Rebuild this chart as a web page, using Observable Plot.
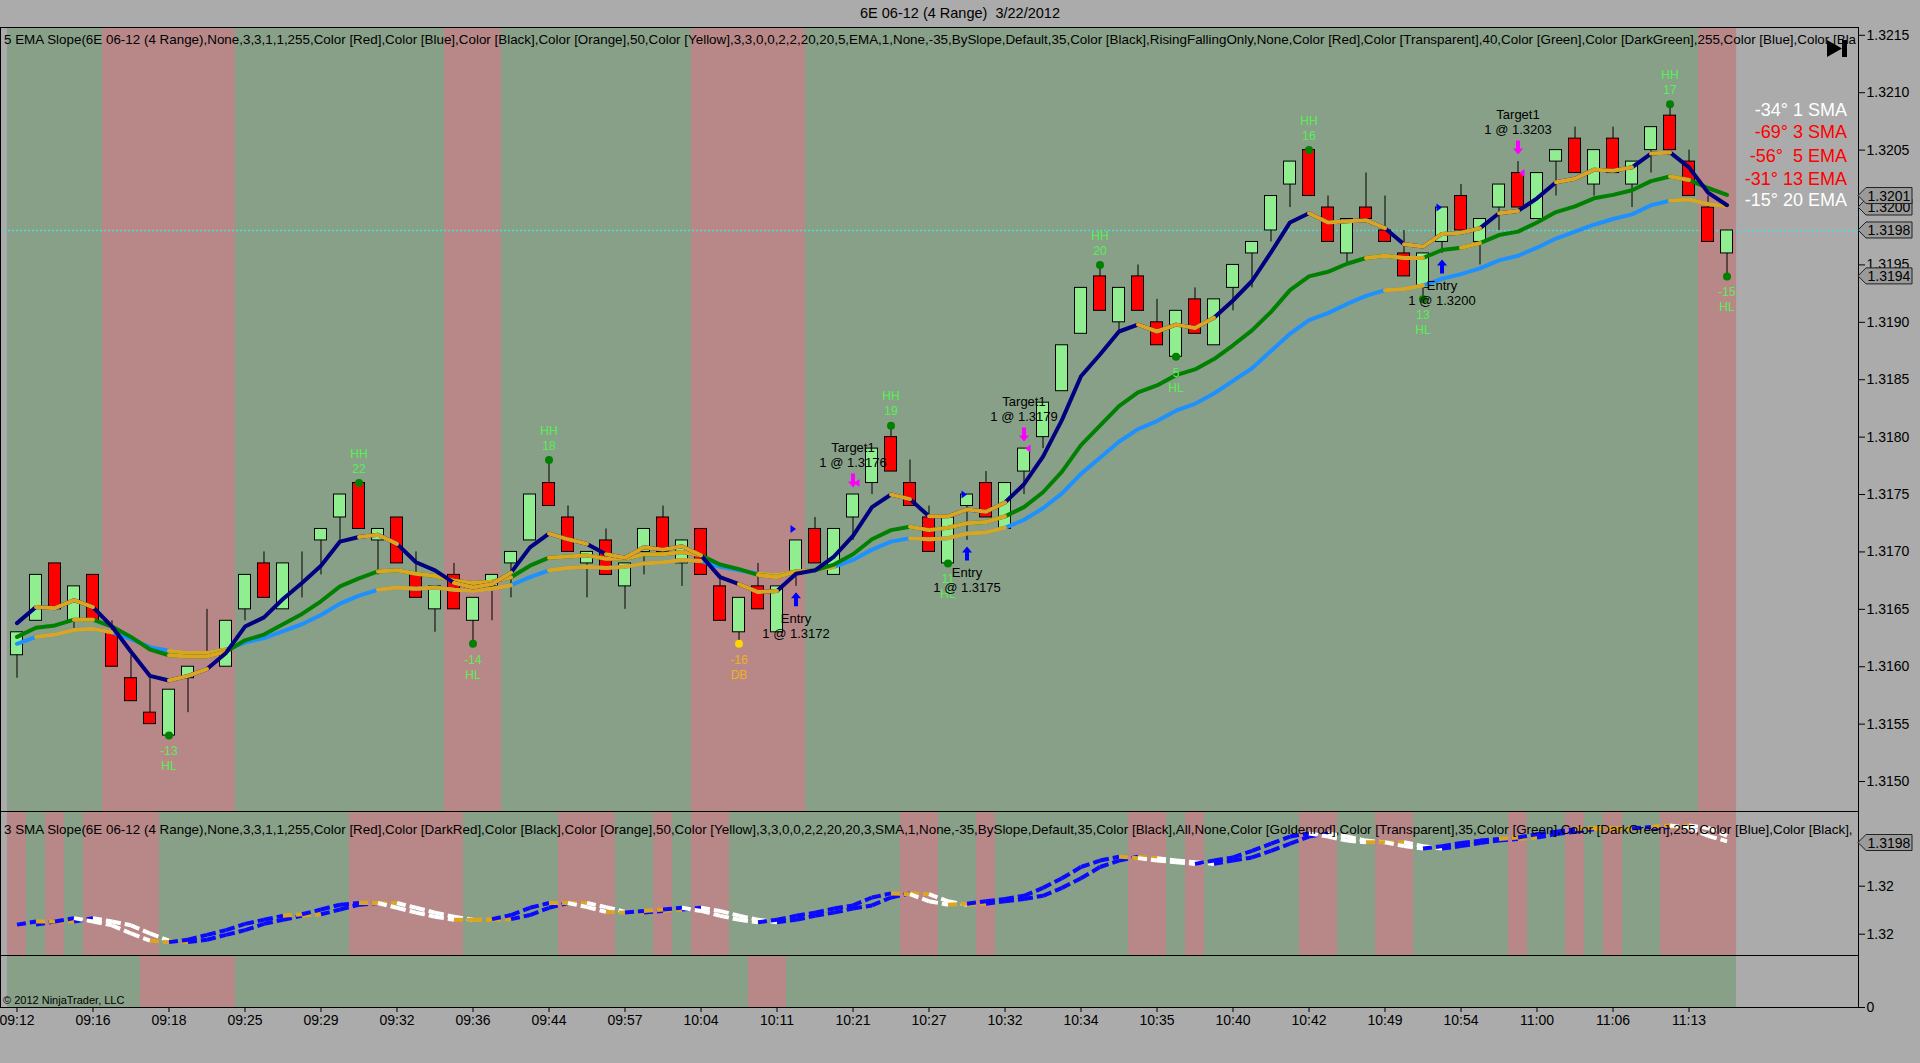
<!DOCTYPE html>
<html><head><meta charset="utf-8">
<script src="https://cdn.jsdelivr.net/npm/d3@7"></script>
<script src="https://cdn.jsdelivr.net/npm/@observablehq/plot@0.6"></script>
<style>
html,body{margin:0;padding:0;}
body{background:#ababab;width:1920px;height:1063px;overflow:hidden;position:relative;font-family:'Liberation Sans',Arial,sans-serif;}
.abs{position:absolute;white-space:pre;}
.panel{position:absolute;left:0;}
.ptitle{position:absolute;left:4px;font-size:13.4px;line-height:15px;color:#000;width:1852px;overflow:hidden;white-space:pre;}
.leg{position:absolute;right:73px;font-size:18px;line-height:20px;white-space:pre;text-align:right;}
</style></head><body>
<div class="abs" style="left:0;top:5px;width:1920px;text-align:center;font-size:14.5px;line-height:16px;color:#000">6E 06-12 (4 Range)  3/22/2012</div>
<div id="p1" class="panel" style="top:27px"></div>
<div id="p2" class="panel" style="top:811px"></div>
<div id="p3" class="panel" style="top:955px"></div>
<div class="ptitle" style="top:32px">5 EMA Slope(6E 06-12 (4 Range),None,3,3,1,1,255,Color [Red],Color [Blue],Color [Black],Color [Orange],50,Color [Yellow],3,3,0,0,2,2,20,20,5,EMA,1,None,-35,BySlope,Default,35,Color [Black],RisingFallingOnly,None,Color [Red],Color [Transparent],40,Color [Green],Color [DarkGreen],255,Color [Blue],Color [Black],</div>
<div class="ptitle" style="top:822px">3 SMA Slope(6E 06-12 (4 Range),None,3,3,1,1,255,Color [Red],Color [DarkRed],Color [Black],Color [Orange],50,Color [Yellow],3,3,0,0,2,2,20,20,3,SMA,1,None,-35,BySlope,Default,35,Color [Black],All,None,Color [Goldenrod],Color [Transparent],35,Color [Green],Color [DarkGreen],255,Color [Blue],Color [Black],</div>
<div class="abs" style="left:3px;top:994px;font-size:11px;line-height:13px;color:#000">© 2012 NinjaTrader, LLC</div>
<div class="leg" style="top:100px;color:#ffffff">-34° 1 SMA</div>
<div class="leg" style="top:122px;color:#ff0000">-69° 3 SMA</div>
<div class="leg" style="top:146px;color:#ff0000">-56°  5 EMA</div>
<div class="leg" style="top:169px;color:#ff0000">-31° 13 EMA</div>
<div class="leg" style="top:190px;color:#ffffff">-15° 20 EMA</div>
<script>
// ---------------- DATA ----------------
const open = [1.3161,1.3164,1.3169,1.3164,1.3168,1.3163,1.3159,1.3156,1.3154,1.3159,
1.3161,1.3160,1.3165,1.3169,1.3165,1.3170,1.3171,1.3173,1.3176,1.3171,
1.3173,1.3168,1.3165,1.3168,1.3164,1.3167,1.3169,1.3171,1.3176,1.3173,
1.3169,1.3171,1.3167,1.3170,1.3173,1.3169,1.3172,1.3167,1.3163,1.3167,
1.3163,1.3168,1.3172,1.3168,1.3173,1.3176,1.3180,1.3176,1.3173,1.3169,
1.3174,1.3176,1.3172,1.3177,1.3180,1.3184,1.3189,1.3194,1.3190,1.3194,
1.3190,1.3187,1.3192,1.3188,1.3193,1.3196,1.3198,1.3202,1.3205,1.3200,
1.3196,1.3200,1.3198,1.3196,1.3193,1.3197,1.3201,1.3197,1.3200,1.3203,
1.3199,1.3204,1.3206,1.3202,1.3206,1.3202,1.3205,1.3208,1.3204,1.3200,1.3196];
const high = [1.3163,1.3168,1.3169,1.3167,1.3168,1.3164,1.3161,1.3159,1.3158,1.3160,
1.3165,1.3164,1.3168,1.3170,1.3169,1.3170,1.3172,1.3175,1.3176,1.3172,
1.3173,1.3170,1.3167,1.3169,1.3166,1.3168,1.3170,1.3175,1.3178,1.3174,
1.3170,1.3172,1.3169,1.3172,1.3174,1.3171,1.3172,1.3168,1.3166,1.3169,
1.3167,1.3171,1.3173,1.3172,1.3175,1.3179,1.3181,1.3178,1.3174,1.3173,
1.3175,1.3177,1.3176,1.3179,1.3183,1.3188,1.3193,1.3195,1.3193,1.3195,
1.3192,1.3191,1.3193,1.3192,1.3195,1.3197,1.3201,1.3204,1.3205,1.3201,
1.3199,1.3203,1.3201,1.3198,1.3196,1.3200,1.3202,1.3199,1.3202,1.3204,
1.3203,1.3205,1.3207,1.3205,1.3207,1.3204,1.3207,1.3209,1.3205,1.3201,1.3198];
const low = [1.3159,1.3164,1.3165,1.3163,1.3164,1.3160,1.3157,1.3155,1.3154,1.3156,
1.3161,1.3160,1.3164,1.3166,1.3165,1.3166,1.3168,1.3171,1.3172,1.3168,
1.3169,1.3166,1.3163,1.3165,1.3162,1.3164,1.3166,1.3171,1.3174,1.3170,
1.3166,1.3168,1.3165,1.3168,1.3170,1.3167,1.3168,1.3164,1.3162,1.3165,
1.3163,1.3167,1.3169,1.3168,1.3171,1.3175,1.3177,1.3174,1.3170,1.3169,
1.3171,1.3173,1.3172,1.3175,1.3179,1.3184,1.3189,1.3191,1.3189,1.3191,
1.3188,1.3187,1.3189,1.3188,1.3191,1.3193,1.3197,1.3200,1.3201,1.3197,
1.3195,1.3199,1.3197,1.3194,1.3192,1.3196,1.3198,1.3195,1.3198,1.3200,
1.3199,1.3201,1.3203,1.3201,1.3203,1.3200,1.3203,1.3205,1.3201,1.3197,1.3194];
const close = [1.3163,1.3168,1.3165,1.3167,1.3164,1.3160,1.3157,1.3155,1.3158,1.3160,
1.3161,1.3164,1.3168,1.3166,1.3169,1.3170,1.3172,1.3175,1.3172,1.3172,
1.3169,1.3166,1.3167,1.3165,1.3166,1.3168,1.3170,1.3175,1.3174,1.3170,
1.3170,1.3168,1.3169,1.3172,1.3170,1.3171,1.3168,1.3164,1.3166,1.3165,
1.3167,1.3171,1.3169,1.3172,1.3175,1.3179,1.3177,1.3174,1.3170,1.3173,
1.3175,1.3173,1.3176,1.3179,1.3183,1.3188,1.3193,1.3191,1.3193,1.3191,
1.3188,1.3191,1.3189,1.3192,1.3195,1.3197,1.3201,1.3204,1.3201,1.3197,
1.3199,1.3199,1.3197,1.3194,1.3196,1.3200,1.3198,1.3199,1.3202,1.3200,
1.3203,1.3205,1.3203,1.3205,1.3203,1.3204,1.3207,1.3205,1.3201,1.3197,1.3198];

const ema5 = [1.31638,1.31652,1.31651,1.31658,1.31652,1.31635,1.31613,1.31592,1.31588,1.31592,
1.31598,1.31612,1.31635,1.31643,1.31659,1.31673,1.31688,1.31709,1.31713,1.31715,
1.31707,1.31691,1.31684,1.31673,1.31669,1.31672,1.31682,1.31704,1.31716,1.31711,
1.31707,1.31698,1.31695,1.31704,1.31702,1.31705,1.31697,1.31678,1.31672,1.31665,
1.31666,1.31681,1.31684,1.31696,1.31714,1.31739,1.31750,1.31746,1.31731,1.31731,
1.31737,1.31735,1.31743,1.31759,1.31783,1.31815,1.31853,1.31872,1.31892,1.31898,
1.31892,1.31898,1.31895,1.31904,1.31919,1.31936,1.31961,1.31987,1.31995,1.31987,
1.31988,1.31989,1.31982,1.31968,1.31966,1.31977,1.31978,1.31982,1.31995,1.31997,
1.32008,1.32022,1.32025,1.32033,1.32032,1.32035,1.32047,1.32048,1.32035,1.32013,1.32002];
const ema13 = [1.31626,1.31634,1.31636,1.31641,1.31641,1.31635,1.31626,1.31615,1.31610,1.31609,
1.31609,1.31613,1.31623,1.31628,1.31637,1.31646,1.31657,1.31670,1.31677,1.31683,
1.31684,1.31681,1.31679,1.31675,1.31673,1.31674,1.31678,1.31688,1.31695,1.31696,
1.31697,1.31694,1.31694,1.31698,1.31698,1.31700,1.31697,1.31689,1.31685,1.31680,
1.31678,1.31683,1.31684,1.31689,1.31698,1.31711,1.31719,1.31722,1.31719,1.31721,
1.31725,1.31726,1.31731,1.31739,1.31752,1.31770,1.31793,1.31810,1.31827,1.31839,
1.31845,1.31854,1.31859,1.31868,1.31880,1.31893,1.31909,1.31928,1.31940,1.31944,
1.31951,1.31956,1.31958,1.31956,1.31956,1.31963,1.31965,1.31969,1.31976,1.31979,
1.31987,1.31996,1.32001,1.32008,1.32011,1.32015,1.32023,1.32027,1.32024,1.32017,1.32011];
const ema20 = [1.31620,1.31626,1.31628,1.31632,1.31633,1.31630,1.31624,1.31617,1.31614,1.31612,
1.31612,1.31615,1.31621,1.31625,1.31631,1.31637,1.31645,1.31655,1.31662,1.31667,
1.31669,1.31668,1.31669,1.31667,1.31666,1.31668,1.31671,1.31678,1.31684,1.31686,
1.31687,1.31686,1.31687,1.31690,1.31691,1.31693,1.31692,1.31687,1.31684,1.31681,
1.31680,1.31683,1.31684,1.31687,1.31693,1.31702,1.31709,1.31712,1.31711,1.31712,
1.31716,1.31717,1.31721,1.31728,1.31738,1.31751,1.31768,1.31782,1.31796,1.31807,
1.31814,1.31823,1.31829,1.31838,1.31849,1.31860,1.31875,1.31890,1.31902,1.31908,
1.31916,1.31923,1.31928,1.31929,1.31932,1.31938,1.31942,1.31947,1.31954,1.31958,
1.31965,1.31973,1.31979,1.31985,1.31990,1.31994,1.32002,1.32006,1.32007,1.32003,1.32001];
const sma3 = [1.31640,1.31653,1.31653,1.31667,1.31653,1.31637,1.31603,1.31573,1.31567,1.31577,
1.31597,1.31617,1.31643,1.31660,1.31677,1.31683,1.31703,1.31723,1.31730,1.31730,
1.31710,1.31690,1.31673,1.31660,1.31660,1.31663,1.31680,1.31710,1.31730,1.31730,
1.31713,1.31693,1.31690,1.31697,1.31703,1.31710,1.31697,1.31677,1.31660,1.31650,
1.31660,1.31677,1.31690,1.31707,1.31720,1.31753,1.31770,1.31767,1.31737,1.31723,
1.31727,1.31737,1.31747,1.31760,1.31793,1.31833,1.31880,1.31907,1.31923,1.31917,
1.31907,1.31900,1.31893,1.31907,1.31920,1.31947,1.31977,1.32007,1.32020,1.32007,
1.31990,1.31983,1.31983,1.31967,1.31957,1.31967,1.31980,1.31990,1.31997,1.32003,
1.32017,1.32027,1.32037,1.32043,1.32037,1.32040,1.32047,1.32053,1.32043,1.32010,1.31987];

// flat (goldenrod) stretches of each average, as [first bar, last bar]
const ema5Flat  = [[1,4],[8,10],[18,20],[23,26],[28,30],[31,36],[38,40],[46,47],[48,52],[59,63],[68,72],[73,77],[78,79],[81,85],[86,87]];
const ema13Flat = [[3,4],[8,11],[19,26],[28,36],[39,42],[47,52],[71,74],[76,77],[87,88]];
const ema20Flat = [[1,5],[8,11],[19,26],[28,36],[39,43],[47,52],[72,74],[87,90]];

// background falling bands, as [first bar, last bar]
const bands1 = [[5,11],[23,25],[36,41],[89,90]];
const bands2 = [[0,0],[2,2],[4,7],[18,23],[29,31],[34,34],[36,37],[47,48],[51,51],[59,60],[62,62],[68,69],[72,73],[79,79],[82,82],[84,84],[87,90]];
const bands3 = [[7,11],[39,40]];

const timeLabels = ["09:12","09:16","09:18","09:25","09:29","09:32","09:36","09:44","09:57","10:04","10:11","10:21","10:27","10:32","10:34","10:35","10:40","10:42","10:49","10:54","11:00","11:06","11:13"];
const labelEvery = 4;

const swingHighBars = [18,28,46,57,68,87];
const swingHighText = ["22","18","19","20","16","17"];
const swingLowBars = [8,24,49,61,74,90];
const swingLowText = ["-13","-14","11","5","13","-15"];
const dbBars = [38];
const dbText = ["-16"];

const entryBars = [41,50,75];
const entryPrices = [1.3172,1.3175,1.3200];
const targetBars = [44,53,79];
const targetPrices = [1.3176,1.3179,1.3203];

const yTicks1 = [1.3150,1.3155,1.3160,1.3165,1.3170,1.3175,1.3180,1.3185,1.3190,1.3195,1.3200,1.3205,1.3210,1.3215];
const yTicks2 = [1.3180,1.3160];
const tags1 = [1.3200,1.3201,1.3198,1.3194];
const tags2 = [1.3198];
const lastPrice = 1.3198;

// ---------------- STYLE ----------------
const GREEN_BG = "#88a088", PINK_BG = "#b88888";
const UP = "#90ee90", DOWN = "#ff0000";
const NAVY = "#000080", GREEN = "#008000", DODGER = "#1e90ff", GOLD = "#daa520";
const SWING = "#55f055";
const FONT = "'Liberation Sans', Arial, sans-serif";
const XDOM = [-0.868, 96.92];
const BODY = 0.316;

const n = open.length;
const idx = d3.range(n);
const bars = idx.map(i => ({i, o: open[i], h: high[i], l: low[i], c: close[i]}));
const fmt4 = d3.format(".4f");

const flatPts = (segs, vals) => segs.flatMap(([a, b], k) => d3.range(a, b + 1).map(i => ({i, v: vals[i], k})));
const bgMarks = (bands) => [
  Plot.rect([0], {x1: () => -0.5, x2: () => n - 0.5, fill: GREEN_BG}),
  Plot.rect(bands, {x1: d => d[0] - 0.5, x2: d => d[1] + 0.5, fill: PINK_BG})
];

const upArrow = {draw(c){c.moveTo(0,-7);c.lineTo(5,-1);c.lineTo(2,-1);c.lineTo(2,7);c.lineTo(-2,7);c.lineTo(-2,-1);c.lineTo(-5,-1);c.closePath();}};
const downArrow = {draw(c){c.moveTo(0,7);c.lineTo(5,1);c.lineTo(2,1);c.lineTo(2,-7);c.lineTo(-2,-7);c.lineTo(-2,1);c.lineTo(-5,1);c.closePath();}};
const rightTri = {draw(c){c.moveTo(-2.5,-4);c.lineTo(3,0);c.lineTo(-2.5,4);c.closePath();}};
const leftTri = {draw(c){c.moveTo(2.5,-4);c.lineTo(-3,0);c.lineTo(2.5,4);c.closePath();}};

const highs = swingHighBars.map((b, k) => ({i: b, p: high[b], t: swingHighText[k]}));
const lows = swingLowBars.map((b, k) => ({i: b, p: low[b], t: swingLowText[k]}));
const dbs = dbBars.map((b, k) => ({i: b, p: low[b], t: dbText[k]}));
const entries = entryBars.map((b, k) => ({i: b, p: entryPrices[k], l: low[b]}));
const targets = targetBars.map((b, k) => ({i: b, p: targetPrices[k], h: high[b]}));

function addTags(svg, yScale, values){
  const g = d3.select(svg).append("g");
  values.forEach(v => {
    const y = yScale.apply(v);
    g.append("path").attr("d", `M1858,${y} L1866,${y-8} L1912,${y-8} L1912,${y+8} L1866,${y+8} Z`)
      .attr("fill", "#9a9a9a").attr("stroke", "#222").attr("stroke-width", 1);
    g.append("text").attr("x", 1889).attr("y", y).attr("dy", "0.36em").attr("text-anchor", "middle")
      .attr("font-size", 14).attr("font-family", FONT).attr("fill", "#000").text(fmt4(v));
  });
}

// ---------------- PANEL 1 ----------------
const p1 = Plot.plot({
  width: 1920, height: 784, marginLeft: 0, marginRight: 62, marginTop: 0, marginBottom: 0,
  style: {background: "transparent", fontFamily: FONT, fontSize: "14px", color: "#000", overflow: "visible"},
  x: {domain: XDOM, axis: null},
  y: {domain: [1.314739, 1.321568], axis: "right", ticks: yTicks1, tickFormat: fmt4, tickSize: 6, tickPadding: 2, label: null},
  marks: [
    ...bgMarks(bands1),
    Plot.ruleY([lastPrice], {stroke: "#4fd8d8", strokeWidth: 1.5, strokeDasharray: "2,2"}),
    Plot.ruleX(bars, {x: "i", y1: "l", y2: "h", stroke: "#000", strokeWidth: 1}),
    Plot.rect(bars, {x1: d => d.i - BODY, x2: d => d.i + BODY, y1: "o", y2: "c", fill: d => d.c >= d.o ? UP : DOWN, stroke: "#000", strokeWidth: 1}),
    Plot.line(idx, {x: d => d, y: d => ema20[d], stroke: DODGER, strokeWidth: 4, strokeLinejoin: "round"}),
    Plot.line(flatPts(ema20Flat, ema20), {x: "i", y: "v", z: "k", stroke: GOLD, strokeWidth: 4, strokeLinejoin: "round"}),
    Plot.line(idx, {x: d => d, y: d => ema13[d], stroke: GREEN, strokeWidth: 4, strokeLinejoin: "round"}),
    Plot.line(flatPts(ema13Flat, ema13), {x: "i", y: "v", z: "k", stroke: GOLD, strokeWidth: 4, strokeLinejoin: "round"}),
    Plot.line(idx, {x: d => d, y: d => ema5[d], stroke: NAVY, strokeWidth: 4, strokeLinejoin: "round"}),
    Plot.line(flatPts(ema5Flat, ema5), {x: "i", y: "v", z: "k", stroke: GOLD, strokeWidth: 4, strokeLinejoin: "round"}),
    Plot.dot(highs, {x: "i", y: "p", r: 4, fill: "#008000"}),
    Plot.dot(lows, {x: "i", y: "p", r: 4, fill: "#008000"}),
    Plot.dot(dbs, {x: "i", y: "p", r: 4, fill: "#ffd700"}),
    Plot.text(highs, {x: "i", y: "p", text: () => "HH", dy: -29, fill: SWING, fontSize: 12}),
    Plot.text(highs, {x: "i", y: "p", text: "t", dy: -14, fill: SWING, fontSize: 12}),
    Plot.text(lows, {x: "i", y: "p", text: "t", dy: 16, fill: SWING, fontSize: 12}),
    Plot.text(lows, {x: "i", y: "p", text: () => "HL", dy: 31, fill: SWING, fontSize: 12}),
    Plot.text(dbs, {x: "i", y: "p", text: "t", dy: 16, fill: "#f0b020", fontSize: 12}),
    Plot.text(dbs, {x: "i", y: "p", text: () => "DB", dy: 31, fill: "#f0b020", fontSize: 12}),
    Plot.dot(entries, {x: "i", y: "l", symbol: upArrow, r: 5, fill: "#0000ff", dy: 13}),
    Plot.dot(entries, {x: "i", y: "p", symbol: rightTri, r: 4, fill: "#0000ff", dx: -3}),
    Plot.text(entries, {x: "i", y: "l", text: () => "Entry", dy: 32, fill: "#000", fontSize: 13}),
    Plot.text(entries, {x: "i", y: "l", text: d => "1 @ " + fmt4(d.p), dy: 47, fill: "#000", fontSize: 13}),
    Plot.dot(targets, {x: "i", y: "h", symbol: downArrow, r: 5, fill: "#ff00ff", dy: -14}),
    Plot.dot(targets, {x: "i", y: "p", symbol: leftTri, r: 4, fill: "#ff00ff", dx: 4}),
    Plot.text(targets, {x: "i", y: "h", text: () => "Target1", dy: -47, fill: "#000", fontSize: 13}),
    Plot.text(targets, {x: "i", y: "h", text: d => "1 @ " + fmt4(d.p), dy: -32, fill: "#000", fontSize: 13}),
    Plot.frame({stroke: "#000"})
  ]
});
document.getElementById("p1").appendChild(p1);
addTags(p1, p1.scale("y"), tags1);
// play/end icon
const ic = d3.select(p1).append("g").attr("fill", "#000");
ic.append("path").attr("d", "M1827,13 L1842,21.5 L1827,30 Z");
ic.append("rect").attr("x", 1842).attr("y", 13).attr("width", 5).attr("height", 17);

// ---------------- PANEL 2 ----------------
const segs = idx.slice(1).map(i => {
  const d = sma3[i] - sma3[i - 1];
  return {a: i - 1, b: i, ya: sma3[i - 1], yb: sma3[i], col: d > 0.00007 ? "#0a0aff" : d < -0.00007 ? "#ffffff" : GOLD};
});
const segsLag = segs.slice(0, -1);
const p2 = Plot.plot({
  width: 1920, height: 144, marginLeft: 0, marginRight: 62, marginTop: 0, marginBottom: 0,
  style: {background: "transparent", fontFamily: FONT, fontSize: "14px", color: "#000", overflow: "visible"},
  x: {domain: XDOM, axis: null},
  y: {domain: [1.315113, 1.321113], axis: "right", ticks: yTicks2, tickFormat: d3.format(".2f"), tickSize: 6, tickPadding: 2, label: null},
  marks: [
    ...bgMarks(bands2),
    Plot.link(segsLag, {x1: d => d.a + 1, x2: d => d.b + 1, y1: "ya", y2: "yb", stroke: "col", strokeWidth: 4, strokeDasharray: "9,4"}),
    Plot.link(segs, {x1: "a", x2: "b", y1: "ya", y2: "yb", stroke: "col", strokeWidth: 4, strokeDasharray: "9,4"}),
    Plot.frame({stroke: "#000"})
  ]
});
document.getElementById("p2").appendChild(p2);
addTags(p2, p2.scale("y"), tags2);

// ---------------- PANEL 3 + TIME AXIS ----------------
const tickBars = timeLabels.map((_, k) => k * labelEvery);
const p3 = Plot.plot({
  width: 1920, height: 108, marginLeft: 0, marginRight: 62, marginTop: 0, marginBottom: 56,
  style: {background: "transparent", fontFamily: FONT, fontSize: "14px", color: "#000", overflow: "visible"},
  x: {domain: XDOM, axis: "bottom", ticks: tickBars, tickFormat: i => timeLabels[i / labelEvery], tickSize: 5, tickPadding: 3, label: null},
  y: {domain: [0, 1], axis: "right", ticks: [0], tickFormat: d3.format("d"), tickSize: 6, tickPadding: 2, label: null},
  marks: [
    ...bgMarks(bands3),
    Plot.frame({stroke: "#000"})
  ]
});
document.getElementById("p3").appendChild(p3);
</script>
</body></html>
